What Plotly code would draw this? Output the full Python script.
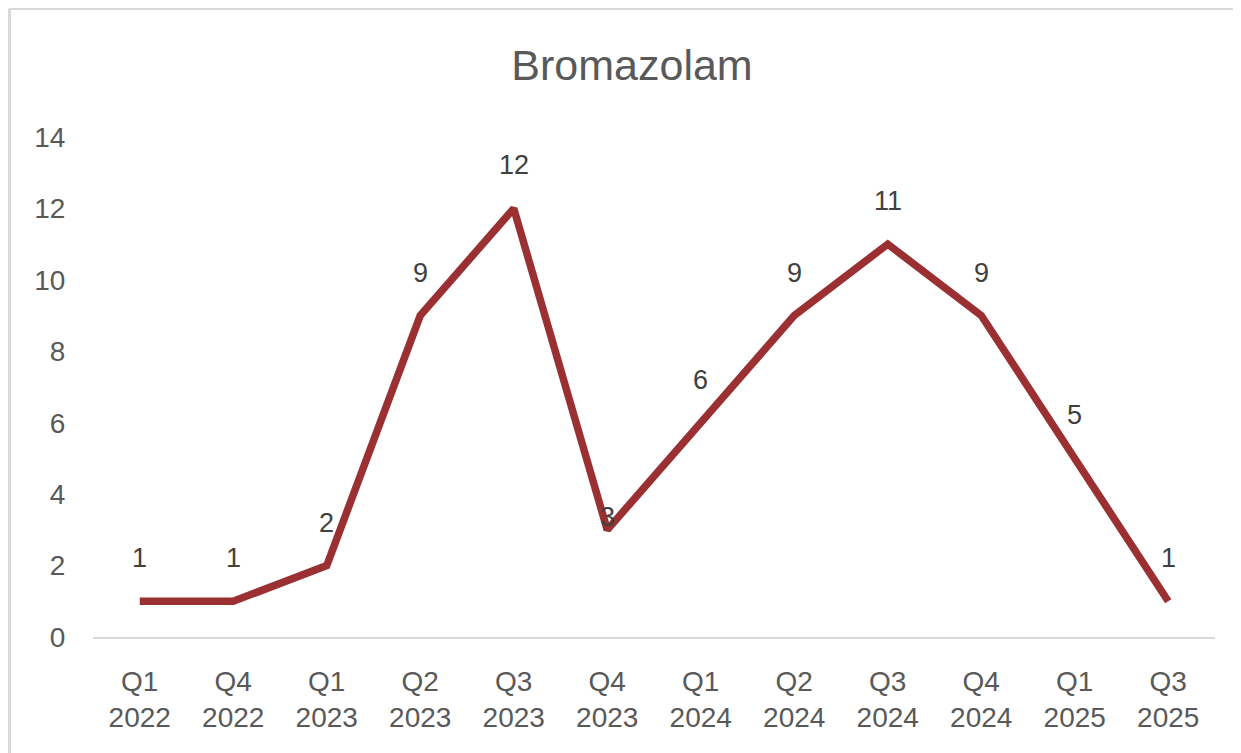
import plotly.graph_objects as go

categories = ["Q1<br>2022", "Q4<br>2022", "Q1<br>2023", "Q2<br>2023", "Q3<br>2023", "Q4<br>2023",
              "Q1<br>2024", "Q2<br>2024", "Q3<br>2024", "Q4<br>2024", "Q1<br>2025", "Q3<br>2025"]
values = [1, 1, 2, 9, 12, 3, 6, 9, 11, 9, 5, 1]
y_ticks = [0, 2, 4, 6, 8, 10, 12, 14]

W, H = 1241, 753
OFF = 8  # page body margin offsets the figure in the window
L, R, T, B = 93 - OFF, 26 + OFF, 137 - OFF, 116 + OFF
pw, ph = W - L - R, H - T - B

FONT = "Liberation Sans, Arial, sans-serif"
GREY = "#595959"
LINE = "#9B3033"

fig = go.Figure()
fig.add_trace(go.Scatter(
    x=list(range(len(categories))), y=values, mode="lines",
    line=dict(color=LINE, width=7.5), hoverinfo="skip", showlegend=False,
))

annotations = []
for i, v in enumerate(values):
    # the label of the trough after the first peak sits close to the line in the original
    shift = 13 if (i > 0 and values[i - 1] > v and i + 1 < len(values) and values[i + 1] > v and v == 3) else 43
    annotations.append(dict(
        x=i, y=v, xref="x", yref="y", text=str(v), showarrow=False,
        yanchor="middle", xanchor="center", yshift=shift,
        font=dict(family=FONT, size=27, color="#404040"),
    ))

bx = 9.5 - OFF
by = 8.5 - OFF
fig.update_layout(
    width=W, height=H,
    margin=dict(l=L, r=R, t=T, b=B, pad=0),
    paper_bgcolor="white", plot_bgcolor="white",
    title=dict(text="Bromazolam", x=(632 - OFF) / W, xref="container", xanchor="center",
               y=1 - (65 - OFF) / H, yref="container", yanchor="middle",
               font=dict(family=FONT, size=43, color=GREY)),
    xaxis=dict(
        tickmode="array", tickvals=list(range(len(categories))), ticktext=categories,
        range=[-0.5, len(categories) - 0.5],
        showgrid=False, zeroline=False,
        showline=True, linecolor="#d9d9d9", linewidth=2,
        ticks="outside", ticklen=18, tickcolor="rgba(0,0,0,0)",
        tickfont=dict(family=FONT, size=28, color=GREY),
    ),
    yaxis=dict(
        range=[0, 14], tickmode="array", tickvals=y_ticks,
        showgrid=False, zeroline=False, showline=False,
        ticks="outside", ticklen=21, tickcolor="rgba(0,0,0,0)",
        tickfont=dict(family=FONT, size=28, color=GREY),
    ),
    annotations=annotations,
    shapes=[
        dict(type="line", xref="paper", yref="paper",
             x0=(bx - L) / pw, x1=(bx - L) / pw, y0=-2, y1=(H - B - by) / ph,
             line=dict(color="#d9d9d9", width=3)),
        dict(type="line", xref="paper", yref="paper",
             x0=(bx - L) / pw, x1=(W + 20 - L) / pw, y0=(H - B - by) / ph, y1=(H - B - by) / ph,
             line=dict(color="#d9d9d9", width=3)),
    ],
)

fig.write_html("out.html")
